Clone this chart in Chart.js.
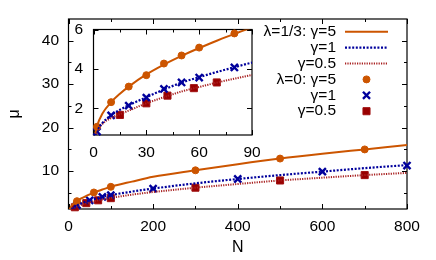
<!DOCTYPE html>
<html><head><meta charset="utf-8">
<script src="https://cdn.jsdelivr.net/npm/chart.js@4.4.1/dist/chart.umd.min.js"></script>
<style>
html,body{margin:0;padding:0;background:#fff;}
#wrap{position:relative;width:436px;height:260px;}
canvas{position:absolute;left:0;top:0;}
</style></head><body>
<div id="wrap"><canvas id="main" width="436" height="260"></canvas><canvas id="inset" width="436" height="260"></canvas></div>
<script>
// λ=1/3 curves
const lineN     = [1, 2, 5, 10, 15, 20, 30, 40, 50, 60, 70, 80, 90, 100, 150, 200, 300, 400, 500, 600, 700, 800];
const lineMuG5  = [0.72, 1.1, 1.72, 2.31, 2.74, 3.10, 3.72, 4.22, 4.66, 5.06, 5.43, 5.78, 6.1, 6.42, 7.6, 8.7, 10.2, 11.6, 12.9, 14.0, 15.0, 16.0];
const lineMuG1  = [0.6, 0.85, 1.25, 1.64, 1.92, 2.15, 2.56, 2.95, 3.3, 3.58, 3.84, 4.08, 4.32, 4.5, 5.3, 6.0, 7.2, 8.2, 9.1, 9.9, 10.7, 11.4];
const lineMuG05 = [0.55, 0.8, 1.2, 1.5, 1.7, 1.88, 2.25, 2.56, 2.85, 3.08, 3.3, 3.5, 3.69, 3.85, 4.6, 5.2, 6.2, 7.05, 7.86, 8.5, 9.1, 9.6];
// λ=0 points, main plot
const mainN_G5   = [20, 60, 100, 300, 500, 700];
const mainMu_G5  = [3.1, 5.1, 6.4, 10.2, 12.9, 15.0];
const mainN_G1   = [20, 50, 80, 100, 200, 400, 600, 800];
const mainMu_G1  = [2.2, 3.3, 4.1, 4.5, 6.0, 8.2, 9.9, 11.3];
const mainN_G05  = [15, 42, 70, 100, 300, 500, 700];
const mainMu_G05 = [1.7, 2.65, 3.3, 3.8, 6.2, 7.86, 9.1];
// λ=0 points, inset
const insN_G5   = [2, 10, 20, 30, 40, 50, 60, 80];
const insMu_G5  = [1.06, 2.31, 3.10, 3.68, 4.27, 4.68, 5.08, 5.80];
const insN_G1   = [2, 10, 20, 30, 40, 50, 60, 80];
const insMu_G1  = [0.81, 1.64, 2.13, 2.54, 2.98, 3.31, 3.56, 4.07];
const insN_G05  = [15, 30, 42, 57, 70];
const insMu_G05 = [1.66, 2.25, 2.64, 3.02, 3.31];
// ticks
const mainXTicks = [0, 200, 400, 600, 800];
const mainXMinor = [100, 300, 500, 700];
const mainYTicks = [10, 20, 30, 40];
const mainYMinor = [5, 15, 25, 35];
const insXTicks = [0, 30, 60, 90];
const insXMinor = [15, 45, 75];
const insYTicks = [2, 4, 6];
const insYMinor = [];
const legendLabels = ['λ=1/3: γ=5', 'γ=1', 'γ=0.5', 'λ=0: γ=5', 'γ=1', 'γ=0.5'];

const FONT = '"Liberation Sans", Arial, Helvetica, sans-serif';
const cOrange = '#cc5500', cBlue = '#00009c', cRed = '#990000', cRedLine = '#a82020';

const pts = (xs, ys) => xs.map((v, i) => ({x: v, y: ys[i]}));

function makeDatasets(ptN5, ptM5, ptN1, ptM1, ptN05, ptM05) {
  return [
    {label: legendLabels[0], data: pts(lineN, lineMuG5), borderColor: cOrange, borderWidth: 2, pointRadius: 0, cubicInterpolationMode: 'monotone'},
    {label: legendLabels[1], data: pts(lineN, lineMuG1), borderColor: cBlue, borderWidth: 2.2, borderDash: [2, 1.6], pointRadius: 0, cubicInterpolationMode: 'monotone'},
    {label: legendLabels[2], data: pts(lineN, lineMuG05), borderColor: cRedLine, borderWidth: 2, borderDash: [1.2, 1.2], pointRadius: 0, cubicInterpolationMode: 'monotone'},
    {label: legendLabels[3], data: pts(ptN5, ptM5), showLine: false, pointStyle: 'circle', pointRadius: 3.5, pointBackgroundColor: cOrange, pointBorderColor: cOrange, pointBorderWidth: 1, clip: false},
    {label: legendLabels[4], data: pts(ptN1, ptM1), showLine: false, pointStyle: 'crossRot', pointRadius: 5, pointBorderColor: cBlue, pointBorderWidth: 2.4, clip: false},
    {label: legendLabels[5], data: pts(ptN05, ptM05), showLine: false, pointStyle: 'rect', pointRadius: 5, pointBackgroundColor: cRed, pointBorderColor: '#a01010', pointBorderWidth: 1, clip: false}
  ];
}

const framePlugin = {
  id: 'frame',
  beforeDraw(chart, args, o) {
    if (o.fill) {
      const a = chart.chartArea, ctx = chart.ctx;
      ctx.save(); ctx.fillStyle = o.fill;
      ctx.fillRect(a.left, a.top, a.right - a.left, a.bottom - a.top);
      ctx.restore();
    }
  },
  beforeDatasetsDraw(chart, args, o) {
    const {ctx, chartArea: a, scales: {x, y}} = chart;
    ctx.save();
    ctx.strokeStyle = '#000'; ctx.lineWidth = 1;
    ctx.beginPath();
    const xt = (vals, len) => vals.forEach(v => {
      const px = Math.round(x.getPixelForValue(v)) + 0.5;
      ctx.moveTo(px, a.bottom); ctx.lineTo(px, a.bottom - len);
      ctx.moveTo(px, a.top); ctx.lineTo(px, a.top + len);
    });
    const yt = (vals, len) => vals.forEach(v => {
      const py = Math.round(y.getPixelForValue(v)) + 0.5;
      ctx.moveTo(a.left, py); ctx.lineTo(a.left + len, py);
      ctx.moveTo(a.right, py); ctx.lineTo(a.right - len, py);
    });
    xt(o.xMajor, 5); xt(o.xMinor, 3); yt(o.yMajor, 5); yt(o.yMinor, 3);
    ctx.stroke();
    ctx.lineWidth = 1.2;
    ctx.strokeRect(a.left, a.top, a.right - a.left, a.bottom - a.top);
    ctx.restore();
  }
};

const legendPlugin = {
  id: 'mylegend',
  afterDraw(chart, args, o) {
    if (!o.show) return;
    const ctx = chart.ctx;
    ctx.save();
    ctx.font = '15.5px ' + FONT;
    ctx.textAlign = 'right'; ctx.textBaseline = 'middle'; ctx.fillStyle = '#000';
    chart.data.datasets.forEach((ds, i) => {
      const yy = o.y0 + i * o.dy;
      ctx.fillStyle = '#000';
      ctx.fillText(ds.label, o.textRight, yy);
      if (ds.showLine !== false) {
        ctx.save();
        ctx.strokeStyle = ds.borderColor; ctx.lineWidth = ds.borderWidth;
        ctx.setLineDash(ds.borderDash || []);
        ctx.beginPath(); ctx.moveTo(o.lineX0, yy); ctx.lineTo(o.lineX1, yy); ctx.stroke();
        ctx.restore();
      } else {
        ctx.save();
        ctx.fillStyle = ds.pointBackgroundColor || ds.pointBorderColor;
        ctx.strokeStyle = ds.pointBorderColor;
        ctx.lineWidth = ds.pointBorderWidth;
        Chart.helpers.drawPoint(ctx, {pointStyle: ds.pointStyle, radius: ds.pointRadius, borderWidth: ds.pointBorderWidth, rotation: 0}, (o.lineX0 + o.lineX1) / 2, yy);
        ctx.restore();
      }
    });
    ctx.restore();
  }
};

function fixedTicks(vals) {
  return function(scale) { scale.ticks = vals.map(v => ({value: v})); };
}

function makeChart(id, cfg) {
  return new Chart(document.getElementById(id), {
    type: 'line',
    data: {datasets: cfg.datasets},
    options: {
      responsive: false, animation: false, events: [],
      layout: {padding: cfg.padding},
      plugins: {legend: {display: false}, tooltip: {enabled: false}, title: {display: false},
        frame: cfg.frame, mylegend: cfg.legend},
      scales: {
        x: {type: 'linear', min: cfg.xmin, max: cfg.xmax,
          afterBuildTicks: fixedTicks(cfg.xTicks),
          afterFit: s => { s.height = cfg.xH; },
          grid: {display: false, drawTicks: false}, border: {display: false},
          ticks: {autoSkip: false, maxRotation: 0, padding: 8, color: '#000', font: {family: FONT, size: 15.5}},
          title: cfg.xTitle || {display: false}},
        y: {type: 'linear', min: cfg.ymin, max: cfg.ymax,
          afterBuildTicks: fixedTicks(cfg.yTicks),
          afterFit: s => { s.width = cfg.yW; },
          grid: {display: false, drawTicks: false}, border: {display: false},
          ticks: {autoSkip: false, padding: cfg.yPad, color: '#000', font: {family: FONT, size: 15.5}},
          title: cfg.yTitle || {display: false}}
      }
    },
    plugins: [framePlugin, legendPlugin]
  });
}

makeChart('main', {
  datasets: makeDatasets(mainN_G5, mainMu_G5, mainN_G1, mainMu_G1, mainN_G05, mainMu_G05),
  padding: {left: 0, top: 19, right: 29, bottom: 0},
  xmin: 0, xmax: 800, ymin: 1.3, ymax: 45,
  xTicks: mainXTicks, yTicks: mainYTicks, xH: 51, yW: 68.5, yPad: 9.5,
  xTitle: {display: true, text: 'N', color: '#000', font: {family: FONT, size: 16}, padding: {top: 0, bottom: 3}},
  yTitle: {display: true, text: 'μ', color: '#000', font: {family: FONT, size: 16}, padding: {top: 5, bottom: 0}},
  frame: {xMajor: mainXTicks, xMinor: mainXMinor, yMajor: mainYTicks, yMinor: mainYMinor},
  legend: {show: true, y0: 31.7, dy: 15.9, textRight: 336, lineX0: 345, lineX1: 388}
});

makeChart('inset', {
  datasets: makeDatasets(insN_G5, insMu_G5, insN_G1, insMu_G1, insN_G05, insMu_G05),
  padding: {left: 0, top: 29.5, right: 184, bottom: 0},
  xmin: 0, xmax: 90, ymin: 0.64, ymax: 6,
  xTicks: insXTicks, yTicks: insYTicks, xH: 125, yW: 93.5, yPad: 10.5,
  frame: {fill: '#fff', xMajor: insXTicks, xMinor: insXMinor, yMajor: insYTicks, yMinor: insYMinor},
  legend: {show: false}
});
</script>
</body></html>
